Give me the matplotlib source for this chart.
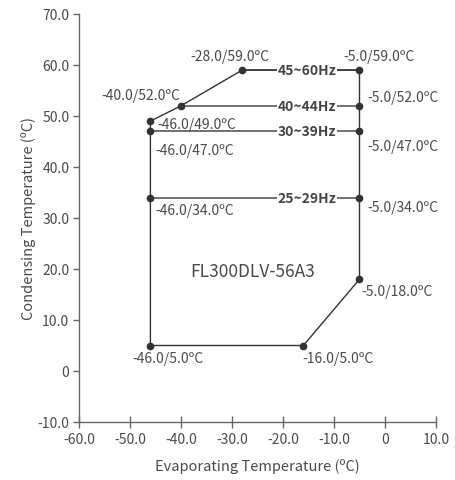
import matplotlib
matplotlib.use("Agg")
import matplotlib.pyplot as plt

plt.rcParams['font.family'] = ['Noto Sans CJK SC', 'DejaVu Sans']

# envelope outline (evaporating, condensing)
outline_x = [-46, -46, -40, -28, -5, -5, -16, -46]
outline_y = [5, 49, 52, 59, 59, 18, 5, 5]

# frequency band lines
band_names = ["45~60Hz", "40~44Hz", "30~39Hz", "25~29Hz"]
band_x0 = [-28, -40, -46, -46]
band_x1 = [-5, -5, -5, -5]
band_y = [59, 52, 47, 34]
band_label_x = -15.3

# labelled points and label offsets (pixels)
pt_x = [-28, -5, -40, -5, -46, -46, -5, -46, -5, -5, -46, -16]
pt_y = [59, 59, 52, 52, 49, 47, 47, 34, 34, 18, 5, 5]
pt_off = [(-12, 14, 'center'), (20, 14, 'center'), (-1, 11, 'right'), (8, 9, 'left'),
          (7, -3, 'left'), (5, -19, 'left'), (8, -15, 'left'), (5, -12, 'left'),
          (8, -9, 'left'), (2, -12, 'left'), (18, -13, 'center'), (35, -13, 'center')]

x_ticks = [-60, -50, -40, -30, -20, -10, 0, 10]
y_ticks = [-10, 0, 10, 20, 30, 40, 50, 60, 70]

def fmt(v):
    return "0" if v == 0 else f"{v:.1f}"

fig = plt.figure(figsize=(4.55, 4.81), dpi=100)
ax = fig.add_axes([79/455, 1-423/481, 357/455, 408/481])

txt = '#4a4a4a'
ax.plot(outline_x, outline_y, color='#333333', lw=1.0, zorder=3)
for name, x0, x1, y in zip(band_names, band_x0, band_x1, band_y):
    ax.plot([x0, x1], [y, y], color='#666666', lw=1.3, zorder=2)
    ax.text(band_label_x, y, name, ha='center', va='center', fontsize=10, fontweight='bold',
            color='#444444', zorder=4,
            bbox=dict(facecolor='white', edgecolor='none', pad=0.3))
ax.plot(pt_x, pt_y, 'o', color='#333333', ms=4.5, zorder=5)
for x, y, (dx, dy, ha) in zip(pt_x, pt_y, pt_off):
    ax.annotate(f"{x:.1f}/{y:.1f}ºC", (x, y), xytext=(dx, dy), textcoords='offset pixels',
                ha=ha, va='center', fontsize=10, color=txt)

ax.text(-25.9, 19.6, "FL300DLV-56A3", ha='center', va='center', fontsize=12.5, color=txt)

ax.set_xlim(-60, 10)
ax.set_ylim(-10, 70)
ax.set_xticks(x_ticks)
ax.set_xticklabels([fmt(v) for v in x_ticks])
ax.set_yticks(y_ticks)
ax.set_yticklabels([fmt(v) for v in y_ticks])
for s in ['top', 'right']:
    ax.spines[s].set_visible(False)
for s in ['left', 'bottom']:
    ax.spines[s].set_color('#666666')
    ax.spines[s].set_linewidth(1.0)
ax.tick_params(axis='x', direction='inout', length=8, width=1, color='#666666', labelcolor=txt, labelsize=10, pad=3)
ax.tick_params(axis='y', direction='out', length=4, width=1, color='#666666', labelcolor=txt, labelsize=10, pad=3)
ax.set_xlabel("Evaporating Temperature (ºC)", fontsize=10.5, color=txt, labelpad=9)
ax.set_ylabel("Condensing Temperature (ºC)", fontsize=10.5, color=txt, labelpad=1)

fig.savefig("out.png", dpi=100)
